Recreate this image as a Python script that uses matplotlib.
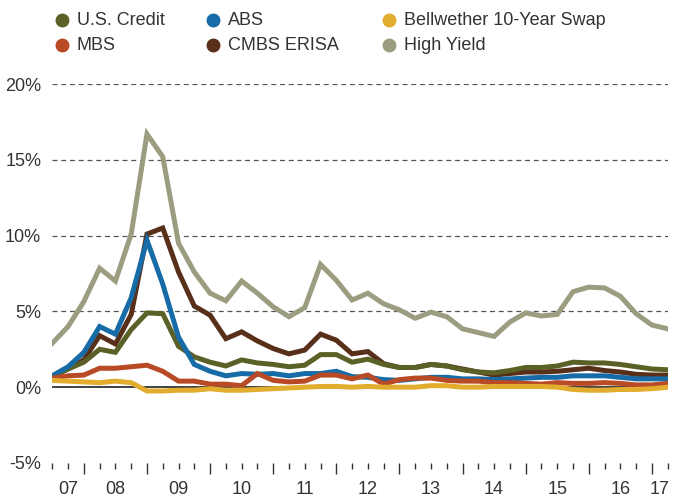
import numpy as np
import pandas as pd
import matplotlib
matplotlib.use("Agg")
from matplotlib import pyplot as plt
from matplotlib.lines import Line2D

plt.rcParams['font.family'] = ['Liberation Sans', 'DejaVu Sans']

# quarterly points, Q2 2007 .. Q1 2017
quarters = pd.period_range('2007Q2', '2017Q1', freq='Q')

us_credit = [0.75, 1.2, 1.65, 2.5, 2.3, 3.8, 4.9, 4.85, 2.7, 2.0,
             1.65, 1.4, 1.8, 1.6, 1.5, 1.35, 1.45, 2.15, 2.15, 1.65,
             1.85, 1.5, 1.3, 1.3, 1.5, 1.4, 1.15, 1.0, 0.95, 1.1,
             1.3, 1.3, 1.4, 1.65, 1.6, 1.6, 1.5, 1.35, 1.2, 1.15]
abs_ = [0.75, 1.35, 2.3, 4.0, 3.5, 5.9, 9.7, 6.8, 3.3, 1.5,
        1.05, 0.75, 0.9, 0.85, 0.9, 0.75, 0.9, 0.9, 1.05, 0.7,
        0.65, 0.5, 0.45, 0.55, 0.65, 0.65, 0.55, 0.55, 0.5, 0.55,
        0.6, 0.65, 0.65, 0.75, 0.75, 0.75, 0.65, 0.55, 0.55, 0.55]
swap = [0.45, 0.4, 0.35, 0.3, 0.4, 0.3, -0.25, -0.25, -0.2, -0.2,
        -0.1, -0.2, -0.2, -0.15, -0.1, -0.05, 0.0, 0.05, 0.05, 0.0,
        0.05, 0.0, 0.0, 0.0, 0.1, 0.1, 0.0, 0.0, 0.05, 0.05,
        0.05, 0.05, 0.0, -0.15, -0.2, -0.2, -0.15, -0.15, -0.1, 0.0]
mbs = [0.6, 0.75, 0.8, 1.25, 1.25, 1.35, 1.45, 1.05, 0.4, 0.4,
       0.2, 0.2, 0.1, 0.9, 0.45, 0.35, 0.4, 0.8, 0.8, 0.55,
       0.8, 0.2, 0.5, 0.6, 0.6, 0.45, 0.4, 0.4, 0.3, 0.3,
       0.25, 0.2, 0.3, 0.25, 0.25, 0.3, 0.25, 0.15, 0.15, 0.25]
cmbs = [0.75, 1.2, 1.8, 3.4, 2.85, 4.8, 10.1, 10.5, 7.6, 5.35,
        4.75, 3.2, 3.65, 3.05, 2.55, 2.2, 2.45, 3.5, 3.1, 2.2,
        2.35, 1.55, 1.3, 1.3, 1.5, 1.4, 1.2, 1.0, 0.8, 0.9,
        1.0, 1.0, 1.05, 1.15, 1.25, 1.1, 1.0, 0.85, 0.8, 0.8]
high_yield = [2.9, 4.0, 5.65, 7.85, 7.0, 10.1, 16.7, 15.2, 9.5, 7.6,
              6.2, 5.7, 7.0, 6.2, 5.3, 4.65, 5.25, 8.1, 7.05, 5.75,
              6.2, 5.5, 5.1, 4.55, 4.95, 4.65, 3.85, 3.6, 3.35, 4.3,
              4.9, 4.7, 4.8, 6.3, 6.6, 6.55, 6.0, 4.85, 4.1, 3.85]

names = ['U.S. Credit', 'MBS', 'ABS', 'CMBS ERISA',
         'Bellwether 10-Year Swap', 'High Yield']
colors = {'U.S. Credit': '#5b6126', 'MBS': '#b84a26', 'ABS': '#176ba6',
          'CMBS ERISA': '#58301a', 'Bellwether 10-Year Swap': '#e2ad2e',
          'High Yield': '#9c9d80'}
series = {'U.S. Credit': us_credit, 'MBS': mbs, 'ABS': abs_,
          'CMBS ERISA': cmbs, 'Bellwether 10-Year Swap': swap,
          'High Yield': high_yield}
draw_order = ['High Yield', 'CMBS ERISA', 'U.S. Credit', 'ABS', 'MBS',
              'Bellwether 10-Year Swap']

yticks = [-5, 0, 5, 10, 15, 20]
txt = '#333333'

fig = plt.figure(figsize=(6.73, 4.98), dpi=100)
ax = fig.add_axes([0.0777, 0.0703, 0.9144, 0.761])

x = np.arange(len(quarters))
ax.axhline(0, color='#333333', lw=1.3, zorder=1)
for v in yticks[2:]:
    ax.axhline(v, color='#555555', lw=0.9, ls=(0, (4, 3)), zorder=1)

for name in draw_order:
    ax.plot(x, series[name], color=colors[name], lw=3.6,
            solid_joinstyle='miter', zorder=3)

ax.set_xlim(0, len(quarters) - 1)
ax.set_ylim(-5, 20)
ax.set_yticks(yticks)
ax.set_yticklabels([f'{v}%' for v in yticks], fontsize=13, color=txt)
ax.tick_params(axis='y', length=0, pad=8)

# ticks: every quarter, long ones at year ends
year_end = [i for i, q in enumerate(quarters) if q.quarter == 4]
ax.set_xticks(year_end)
ax.set_xticks(x, minor=True)
ax.set_xticklabels([])
ax.tick_params(axis='x', which='major', length=8, width=1, color=txt)
ax.tick_params(axis='x', which='minor', length=4, width=1, color=txt)

years = sorted(set(q.year for q in quarters))
for yr in years:
    idx = [i for i, q in enumerate(quarters) if q.year == yr]
    lo = max(0, idx[0] - 1) if yr != years[0] else 0
    hi = idx[-1]
    ax.annotate(f'{yr % 100:02d}', xy=((lo + hi) / 2, 0),
                xycoords=('data', 'axes fraction'), xytext=(0, -19),
                textcoords='offset points', ha='center', va='center',
                fontsize=13, color=txt)

for s in ax.spines.values():
    s.set_visible(False)

# legend, 3 columns x 2 rows
col_x = [62, 213, 389]
row_y = [20, 45]
W, H = 673, 498
for k, name in enumerate(names):
    cx, cy = col_x[k // 2], row_y[k % 2]
    fig.add_artist(Line2D([cx / W], [1 - cy / H], marker='o', ms=9,
                          color=colors[name], ls='none',
                          transform=fig.transFigure))
    fig.text((cx + 15) / W, 1 - cy / H, name, fontsize=13, color=txt,
             ha='left', va='center')

fig.savefig('out.png', dpi=100)
